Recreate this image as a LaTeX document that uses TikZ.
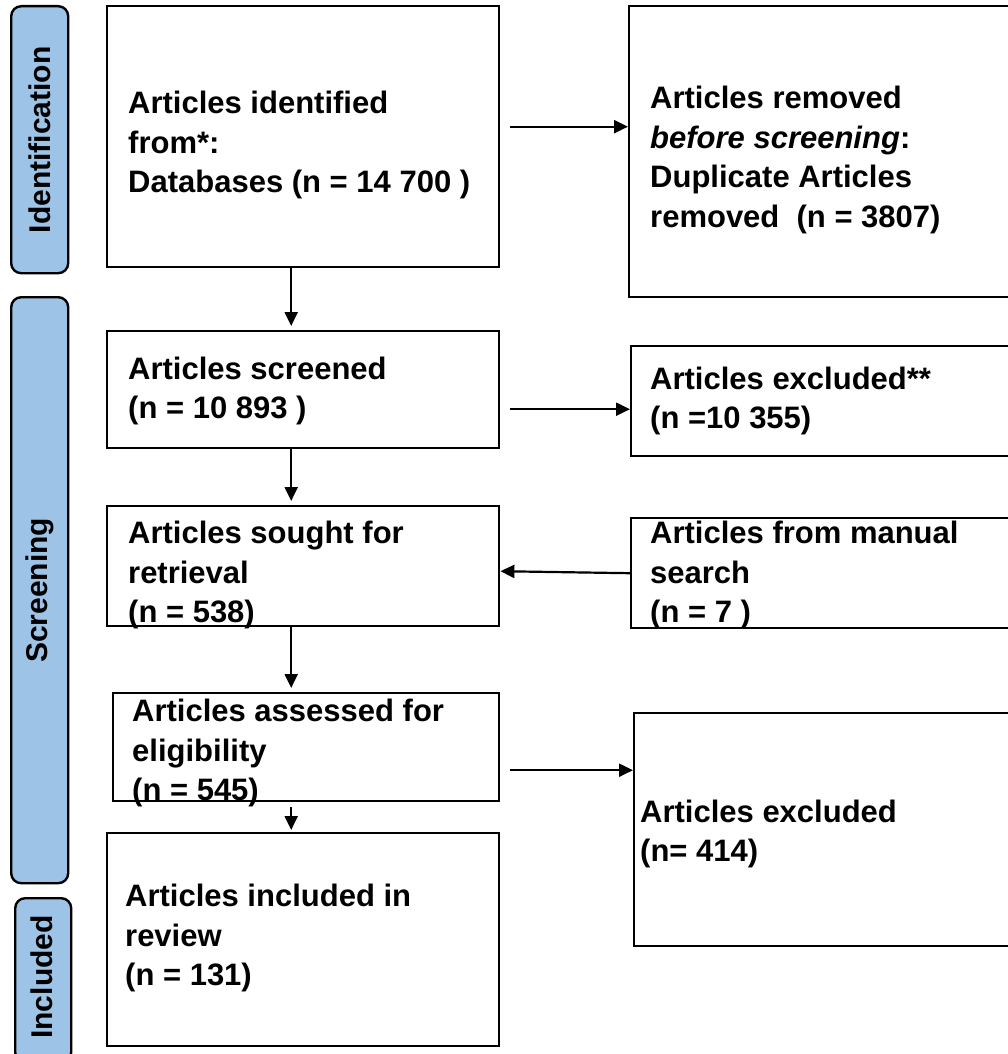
\documentclass[tikz,border=0pt]{standalone}
\usepackage{fontspec}
\setmainfont{Liberation Sans}
\usetikzlibrary{arrows.meta,calc}
\definecolor{barblue}{RGB}{157,195,230}
\begin{document}
\begin{tikzpicture}[x=1pt,y=-1pt,
  box/.style={draw, line width=2.4pt, rectangle, inner sep=0pt, anchor=north west},
  txt/.style={anchor=west, align=left, inner sep=0pt, font=\fontsize{31}{39.7}\selectfont\bfseries},
  bar/.style={draw, line width=2.4pt, rounded corners=10pt, fill=barblue, rectangle, inner sep=0pt, anchor=north west},
  bartxt/.style={rotate=90, font=\fontsize{30}{32}\selectfont\bfseries, inner sep=0pt},
  arr/.style={line width=2.2pt, -{Triangle[length=14pt,width=13pt]}}
]
\useasboundingbox (0,0) rectangle (1008,1054);
% side bars
\node[bar, minimum width=57pt, minimum height=267pt] (bid) at (10,5) {};
\node[bartxt] (tid) at (bid.center) {Identification};
\node[bar, minimum width=57pt, minimum height=586pt] (bsc) at (10,296) {};
\node[bartxt] (tsc) at (bsc.center) {Screening};
\node[bar, minimum width=56pt, minimum height=164pt] (bin) at (14,897) {};
\node[bartxt] (tin) at (42,977) {Included};
% boxes
\node[box, minimum width=392pt, minimum height=261pt] (b1) at (106,5) {};
\node[box, minimum width=384pt, minimum height=291pt] (b2) at (628,5) {};
\node[box, minimum width=392pt, minimum height=117pt] (b3) at (106,330) {};
\node[box, minimum width=382pt, minimum height=110pt] (b6) at (630,345) {};
\node[box, minimum width=392pt, minimum height=120pt] (b4) at (106,505) {};
\node[box, minimum width=382pt, minimum height=110pt] (b7) at (630,517) {};
\node[box, minimum width=386pt, minimum height=108pt] (b5) at (112,692) {};
\node[box, minimum width=379pt, minimum height=233pt] (b8) at (633,712) {};
\node[box, minimum width=392pt, minimum height=213pt] (b9) at (106,832) {};
% texts
\node[txt] (t1) at (128,145) {Articles identified\\from*:\\Databases (n = 14 700 )};
\node[txt] (t2) at (650,160) {Articles removed\\\textit{before screening}:\\Duplicate Articles\\removed\ \ (n = 3807)};
\node[txt] (t3) at (128,391) {Articles screened\\(n = 10 893 )};
\node[txt] (t6) at (650,401) {Articles excluded**\\(n =10 355)};
\node[txt] (t4) at (128,575) {Articles sought for\\retrieval\\(n = 538)};
\node[txt] (t7) at (650,575) {Articles from manual\\search\\(n = 7 )};
\node[txt] (t5) at (132,753) {Articles assessed for\\eligibility\\(n = 545)};
\node[txt] (t8) at (640,834) {Articles excluded\\(n= 414)};
\node[txt] (t9) at (125,938) {Articles included in\\review\\(n = 131)};
% arrows
\draw[arr, shorten <=10pt] ([yshift=10pt]b1.east) -- ([yshift=10pt]b1.east -| b2.west);
\draw[arr, shorten >=4pt] ([xshift=-12pt]b1.south) -- ([xshift=-12pt]b1.south |- b3.north);
\draw[arr, shorten <=10pt] ([yshift=-8pt]b6.west -| b3.east) -- ([yshift=-8pt]b6.west);
\draw[arr, shorten >=4pt] ([xshift=-12pt]b3.south) -- ([xshift=-12pt]b3.south |- b4.north);
\draw[arr] (b7.west) -- ([yshift=-5pt]b4.east);
\draw[arr, shorten >=4pt] ([xshift=-12pt]b4.south) -- ([xshift=-12pt]b4.south |- b5.north);
\draw[arr, shorten <=10pt] ([yshift=-23pt]b5.east) -- ([yshift=-23pt]b5.east -| b8.west);
\draw[arr, shorten <=5pt, shorten >=2pt] ([xshift=-12pt]b4.south |- b5.south) -- ([xshift=-12pt]b4.south |- b9.north);
\end{tikzpicture}
\end{document}
